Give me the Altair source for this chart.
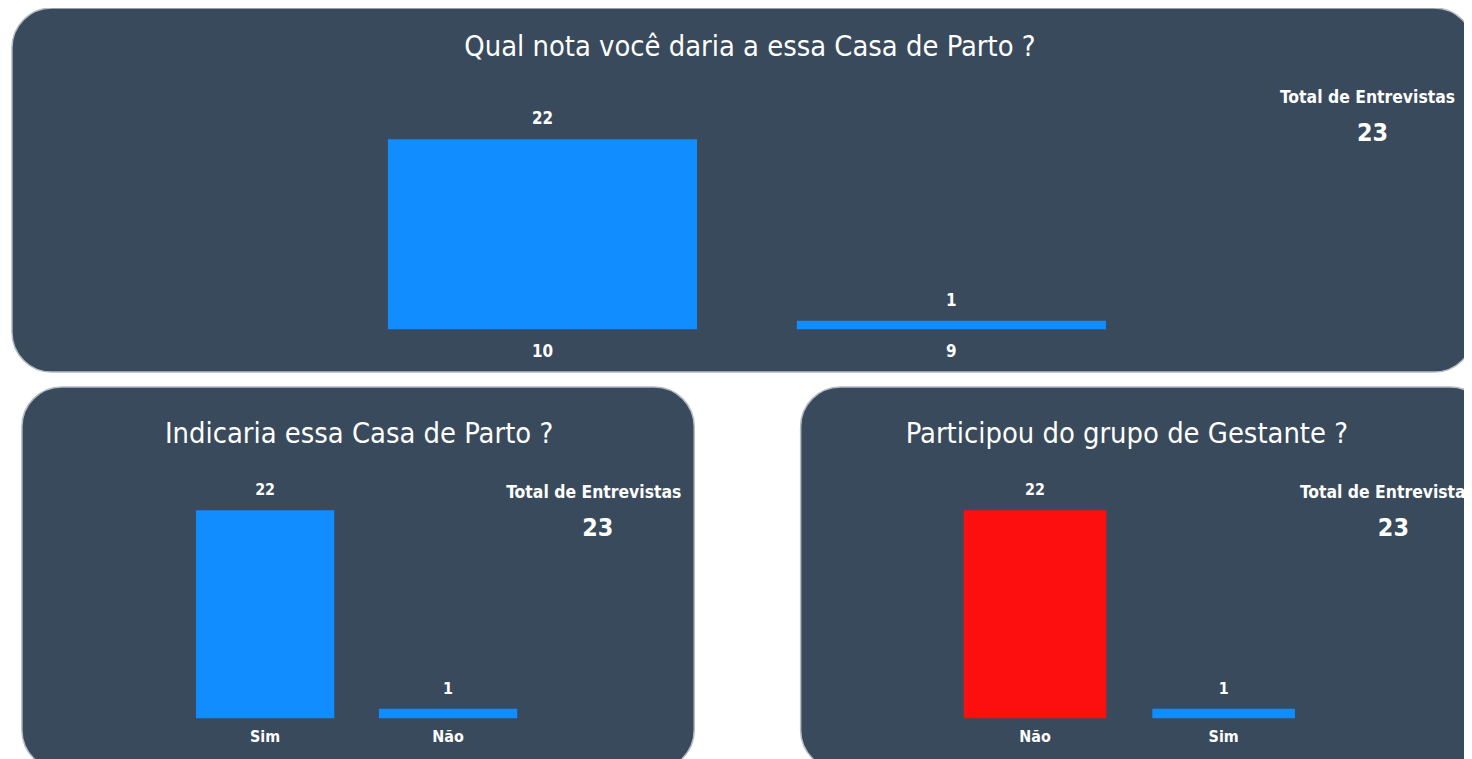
import altair as alt
import pandas as pd

# ---- data ----
nota_cats = ["10", "9"]
nota_vals = [22, 1]

indicaria_cats = ["Sim", "Não"]
indicaria_vals = [22, 1]

grupo_cats = ["Não", "Sim"]
grupo_vals = [22, 1]

total_entrevistas = 23

titles = [
    "Qual nota você daria a essa Casa de Parto ?",
    "Indicaria essa Casa de Parto ?",
    "Participou do grupo de Gestante ?",
]
total_label = "Total de Entrevistas"

# ---- styles ----
PANEL = "#394a5c"
EDGE = "#b4bbc3"
BLUE = "#118dff"
RED = "#fd0f0f"
WHITE = "#ffffff"
FONT = "DejaVu Sans Condensed, Liberation Sans Narrow, sans-serif"

W, H = 1464, 751
one = pd.DataFrame({"k": [0]})


def panel_bg(x, x2, y, y2):
    return alt.Chart(one).mark_rect(
        color=PANEL, cornerRadius=40, stroke=EDGE, strokeWidth=1.5
    ).encode(x=alt.value(x), x2=alt.value(x2), y=alt.value(y), y2=alt.value(y2))


def label(text, x, y, size, weight="normal"):
    return alt.Chart(one).mark_text(
        font=FONT, fontSize=size, fontWeight=weight, color=WHITE,
        align="center", baseline="middle",
    ).encode(x=alt.value(x), y=alt.value(y), text=alt.value(text))


def bar_panel(cats, vals, xrange, yrange, colors, val_size, cat_size, cat_dy):
    df = pd.DataFrame({"cat": cats, "val": vals})
    xenc = alt.X("cat:N", sort=cats, axis=None,
                 scale=alt.Scale(range=xrange, paddingInner=0.244, paddingOuter=0))
    yenc = alt.Y("val:Q", axis=None,
                 scale=alt.Scale(domain=[0, max(vals)], range=yrange, nice=False, zero=True))
    base = alt.Chart(df)
    bars = base.mark_bar().encode(
        x=xenc, y=yenc,
        color=alt.Color("cat:N", scale=alt.Scale(domain=cats, range=colors), legend=None),
    )
    vlab = base.mark_text(font=FONT, fontSize=val_size, fontWeight="bold", color=WHITE,
                          baseline="middle", dy=-20).encode(
        x=xenc, y=yenc, text=alt.Text("val:Q"))
    clab = base.mark_text(font=FONT, fontSize=cat_size, fontWeight="bold", color=WHITE,
                          baseline="middle", dy=cat_dy).encode(
        x=xenc, y=alt.datum(0), text=alt.Text("cat:N"))
    return alt.layer(bars, vlab, clab)


p1 = bar_panel(nota_cats, nota_vals, [382, 1104], [321, 130], [BLUE, BLUE], 17, 17, 23)
p2 = bar_panel(indicaria_cats, indicaria_vals, [189, 512], [712, 503], [BLUE, BLUE], 16, 16, 19)
p3 = bar_panel(grupo_cats, grupo_vals, [961, 1294], [712, 503], [RED, BLUE], 16, 16, 19)

chart = alt.layer(
    panel_bg(4, 1474, -2, 364),
    panel_bg(14, 690, 379, 764),
    panel_bg(797, 1490, 379, 764),
    p1, p2, p3,
    label(titles[0], 746, 37, 29),
    label(titles[1], 353, 426, 29),
    label(titles[2], 1125, 426, 29),
    label(total_label, 1367, 88, 17.5, "bold"),
    label(str(total_entrevistas), 1372, 124, 25, "bold"),
    label(total_label, 589, 486, 17.5, "bold"),
    label(str(total_entrevistas), 593, 521, 25, "bold"),
    label(total_label, 1387, 486, 17.5, "bold"),
    label(str(total_entrevistas), 1393, 521, 25, "bold"),
).resolve_scale(
    x="independent", y="independent", color="independent"
).properties(
    width=W, height=H, padding=0, background="white",
    autosize=alt.AutoSizeParams(type="none"),
).configure_view(stroke=None)

chart.save("out.html", embed_options={"renderer": "svg", "actions": False})
